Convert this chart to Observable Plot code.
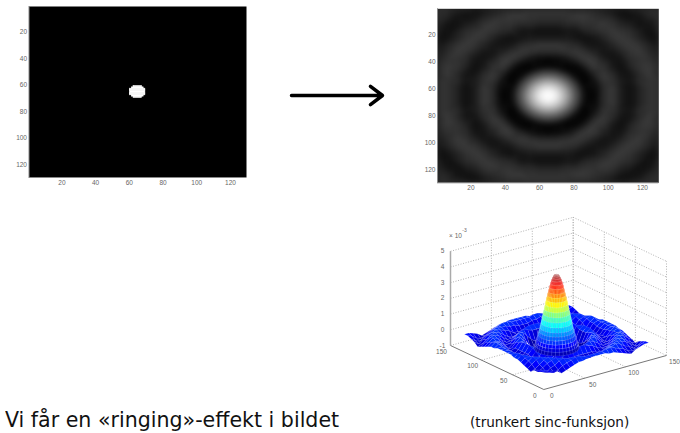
<!DOCTYPE html>
<html><head><meta charset="utf-8">
<script src="https://cdn.jsdelivr.net/npm/d3@7"></script>
<script src="https://cdn.jsdelivr.net/npm/@observablehq/plot@0.6"></script>
<style>
html,body{margin:0;padding:0;background:#fff;width:680px;height:433px;overflow:hidden}
#page{position:relative;width:680px;height:433px;overflow:hidden}
#page>svg,#page>.p{position:absolute}
.t{position:absolute;white-space:nowrap;color:#111;font-family:"DejaVu Sans",sans-serif;transform-origin:0 0}
</style></head><body><div id="page"></div>
<script>
// ---- data ----
const imageTicks = [20,40,60,80,100,120];
const blobRows  = [61,62,63,64,65,66,67,68,69];
const blobLeft  = [63,62,61,61,61,61,61,62,63];
const blobRight = [68,69,70,70,70,70,70,69,68];
const gridStep = 16/3;
// filtered picture, heights in units of 1e-4, rows and columns every gridStep samples from 1 to 129
const heights = [
[1,1,0,-1,-3,-2,-1,0,1,1,2,2,2,2,2,1,1,0,-1,-2,-3,-1,0,1,1],
[1,0,-2,-3,-2,0,1,2,3,3,2,2,2,2,2,3,3,2,1,0,-2,-3,-2,0,1],
[0,-2,-3,-1,0,2,3,2,2,1,1,0,0,0,1,1,2,2,3,2,0,-1,-3,-2,0],
[-1,-3,-1,1,2,3,2,1,0,-2,-2,-3,-3,-3,-2,-2,0,1,2,3,2,1,-1,-3,-1],
[-3,-2,0,2,3,2,0,-2,-3,-2,-1,-1,-1,-1,-1,-2,-3,-2,0,2,3,2,0,-2,-3],
[-2,0,2,3,2,0,-2,-2,-1,1,2,3,3,3,2,1,-1,-2,-2,0,2,3,2,0,-2],
[-1,1,3,2,0,-2,-2,0,2,3,2,1,1,1,2,3,2,0,-2,-2,0,2,3,1,-1],
[0,2,2,1,-2,-2,0,3,3,0,-3,-5,-6,-5,-3,0,3,3,0,-2,-2,1,2,2,0],
[1,3,2,0,-3,-1,2,3,-1,-6,-7,-4,-3,-4,-7,-6,-1,3,2,-1,-3,0,2,3,1],
[1,3,1,-2,-2,1,3,0,-6,-5,1,6,8,6,1,-5,-6,0,3,1,-2,-2,1,3,1],
[2,2,1,-2,-1,2,2,-3,-7,1,11,21,24,21,11,1,-7,-3,2,2,-1,-2,1,2,2],
[2,2,0,-3,-1,3,1,-5,-4,6,21,33,37,33,21,6,-4,-5,1,3,-1,-3,0,2,2],
[2,2,0,-3,-1,3,1,-6,-3,8,24,37,42,37,24,8,-3,-6,1,3,-1,-3,0,2,2],
[2,2,0,-3,-1,3,1,-5,-4,6,21,33,37,33,21,6,-4,-5,1,3,-1,-3,0,2,2],
[2,2,1,-2,-1,2,2,-3,-7,1,11,21,24,21,11,1,-7,-3,2,2,-1,-2,1,2,2],
[1,3,1,-2,-2,1,3,0,-6,-5,1,6,8,6,1,-5,-6,0,3,1,-2,-2,1,3,1],
[1,3,2,0,-3,-1,2,3,-1,-6,-7,-4,-3,-4,-7,-6,-1,3,2,-1,-3,0,2,3,1],
[0,2,2,1,-2,-2,0,3,3,0,-3,-5,-6,-5,-3,0,3,3,0,-2,-2,1,2,2,0],
[-1,1,3,2,0,-2,-2,0,2,3,2,1,1,1,2,3,2,0,-2,-2,0,2,3,1,-1],
[-2,0,2,3,2,0,-2,-2,-1,1,2,3,3,3,2,1,-1,-2,-2,0,2,3,2,0,-2],
[-3,-2,0,2,3,2,0,-2,-3,-2,-1,-1,-1,-1,-1,-2,-3,-2,0,2,3,2,0,-2,-3],
[-1,-3,-1,1,2,3,2,1,0,-2,-2,-3,-3,-3,-2,-2,0,1,2,3,2,1,-1,-3,-1],
[0,-2,-3,-1,0,2,3,2,2,1,1,0,0,0,1,1,2,2,3,2,0,-1,-3,-2,0],
[1,0,-2,-3,-2,0,1,2,3,3,2,2,2,2,2,3,3,2,1,0,-2,-3,-2,0,1],
[1,1,0,-1,-3,-2,-1,0,1,1,2,2,2,2,2,1,1,0,-1,-2,-3,-1,0,1,1]
];
// central lobe: radius in samples and height (1e-4)
const lobeRadius = [0,1,2,3,4,5,6,7,8,9,10,11,12,13,14,15,16,17,18,19,20,21,22];
const lobeHeight = [42,41.9,41.5,40.7,39.5,38,36,33.7,31,28.6,26,23,20,17,14,11,8,5.7,3.5,1.2,-1,-3,-5];
const lobeCentre = 65;
const zTicks = [-1,0,1,2,3,4,5];
const floorTicks = [0,50,100,150];
const jet = ["#000090","#0000ff","#0080ff","#00ffff","#80ff80","#ffff00","#ff8000","#ff0000","#800000"];
const grayStops = [-7,-2,3,42];
const grayLevels = ["#000000","#151515","#393939","#ffffff"];
const arrowSeg = [{x1:21,y1:25,x2:112,y2:25}];

// ---- helpers ----
const page = document.getElementById("page");
function place(el,left,top){el.style.left=left+"px";el.style.top=top+"px";page.appendChild(el);}
function label(text,left,top,size,extra){const d=document.createElement("div");d.className="t";d.textContent=text;d.style.fontSize=size+"px";if(extra)Object.assign(d.style,extra);place(d,left,top);}
function axes2d(){
  return [
    Plot.ruleX([0.5],{stroke:"#888",strokeWidth:1}),
    Plot.ruleY([129.5],{stroke:"#888",strokeWidth:1}),
    Plot.axisX({ticks:imageTicks,tickSize:0,tickPadding:3,label:null,color:"#666",fontSize:6.5,fontFamily:"Liberation Sans"}),
    Plot.axisY({ticks:imageTicks,tickSize:0,tickPadding:2,label:null,color:"#666",fontSize:6.5,fontFamily:"Liberation Sans"})
  ];
}
const dom=[0.5,129.5];

// panel 1: the ideal filter
const blob = blobRows.map((r,i)=>({y1:r-.5,y2:r+.5,x1:blobLeft[i]-.5,x2:blobRight[i]-.5}));
place(Plot.plot({
  width:260,height:195,marginLeft:28.5,marginRight:14,marginTop:6,marginBottom:18,
  x:{domain:dom},y:{domain:dom,reverse:true},
  marks:[Plot.frame({fill:"black",stroke:null}),
    Plot.rect(blob,{x1:"x1",x2:"x2",y1:"y1",y2:"y2",fill:"white",stroke:"white",strokeWidth:.6}),
    ...axes2d()]
}),0,0);

// samples shared by the picture and the surface
const samples=[];
heights.forEach((row,i)=>row.forEach((v,j)=>{
  const a=1+i*gridStep,b=1+j*gridStep;
  if(Math.hypot(a-lobeCentre,b-lobeCentre)>23) samples.push({x:b,y:a,v});
}));
const sectors=36;
lobeRadius.forEach((r,k)=>{
  if(k%2) return;
  for(let s=0;s<(r===0?1:sectors);s++){
    const t=s/sectors*2*Math.PI;
    samples.push({x:lobeCentre+r*Math.cos(t),y:lobeCentre+r*Math.sin(t),v:lobeHeight[k]});
  }
});

// panel 2: filtered picture
place(Plot.plot({
  width:270,height:200,marginLeft:27,marginRight:21.7,marginTop:8.3,marginBottom:17.7,
  x:{domain:dom},y:{domain:dom,reverse:true},
  color:{type:"linear",domain:grayStops,range:grayLevels,clamp:true},
  marks:[Plot.raster(samples,{x:"x",y:"y",fill:"v",interpolate:"barycentric",blur:2}),
    ...axes2d()]
}),410,0);

// panel 3: surface
const F=[133.3,179],A=[-.622,-.2933],B=[.818,-.2267],Z=15.7;
const px=(a,b)=>F[0]+a*A[0]+b*B[0];
const py=(a,b,z)=>F[1]+a*A[1]+b*B[1]-(z+1)*Z;
const cells=[];
for(let i=0;i<24;i++)for(let j=0;j<24;j++){
  if(Math.abs(i-11.5)<4&&Math.abs(j-11.5)<4) continue;
  const c=[[i,j],[i+1,j],[i+1,j+1],[i,j+1]].map(([r,q])=>({a:1+r*gridStep,b:1+q*gridStep,z:heights[r][q]/10}));
  cells.push(c);
}
const lobeCells=[];
for(let k=0;k<lobeRadius.length-1;k++)for(let s=0;s<sectors;s++){
  const t0=s/sectors*2*Math.PI,t1=(s+1)/sectors*2*Math.PI;
  const p=(kk,t)=>({a:lobeCentre+lobeRadius[kk]*Math.cos(t),b:lobeCentre+lobeRadius[kk]*Math.sin(t),z:lobeHeight[kk]/10});
  lobeCells.push([p(k,t0),p(k+1,t0),p(k+1,t1),p(k,t1)]);
}
const depth=c=>-d3.sum(c,p=>p.a+p.b);
cells.sort((u,v)=>depth(u)-depth(v));lobeCells.sort((u,v)=>depth(u)-depth(v));
const toPoly=list=>{
  const out=[];
  list.forEach((c,id)=>{
    const v=d3.mean(c,p=>p.z)*10;
    [...c,c[0]].forEach(p=>out.push({id,v,x:px(p.a,p.b),y:py(p.a,p.b,p.z)}));
  });
  return out;
};
const seg=(p,q)=>({x1:px(p[0],p[1]),y1:py(p[0],p[1],p[2]),x2:px(q[0],q[1]),y2:py(q[0],q[1],q[2])});
const edge=150,zlo=-1,zhi=5;
const dotted=[];
zTicks.forEach(z=>{dotted.push(seg([edge,0,z],[edge,edge,z]),seg([edge,edge,z],[0,edge,z]));});
floorTicks.forEach(t=>{
  dotted.push(seg([edge,t,zlo],[edge,t,zhi]),seg([t,edge,zlo],[t,edge,zhi]));
  if(t>0&&t<edge)dotted.push(seg([t,0,zlo],[t,edge,zlo]),seg([0,t,zlo],[edge,t,zlo]));
});
const solid=[seg([edge,0,zlo],[0,0,zlo]),seg([0,0,zlo],[0,edge,zlo])];
const zAxis=[seg([edge,0,zlo],[edge,0,zhi])];
const zTickMarks=zTicks.map(z=>({x:px(edge,0),y:py(edge,0,z),t:String(z)}));
const aLabs=floorTicks.map(t=>({x:px(t,0),y:py(t,0,zlo),t:String(t)}));
const bLabs=floorTicks.map(t=>({x:px(0,t),y:py(0,t,zlo),t:String(t)}));
const ident=(n)=>({domain:[0,n],range:[0,n]});
const txt={text:"t",fill:"#666",fontSize:6.5,fontFamily:"Liberation Sans",x:"x",y:"y"};
place(Plot.plot({
  width:270,height:223,margin:0,
  x:{type:"linear",...ident(270),axis:null},y:{type:"linear",...ident(223),axis:null},
  color:{type:"linear",domain:[-6,42],interpolate:d3.piecewise(d3.interpolateRgb,jet)},
  marks:[
    Plot.link(dotted,{x1:"x1",y1:"y1",x2:"x2",y2:"y2",stroke:"#aaa",strokeWidth:.9,strokeDasharray:"1,1.6"}),
    Plot.line(toPoly(cells),{x:"x",y:"y",z:"id",fill:"v",stroke:"white",strokeOpacity:.16,strokeWidth:.5}),
    Plot.line(toPoly(lobeCells),{x:"x",y:"y",z:"id",fill:"v",stroke:"white",strokeOpacity:.3,strokeWidth:.35}),
    Plot.link(solid,{x1:"x1",y1:"y1",x2:"x2",y2:"y2",stroke:"#777",strokeWidth:1}),
    Plot.link(zAxis,{x1:"x1",y1:"y1",x2:"x2",y2:"y2",stroke:"#aaa",strokeWidth:1.5}),
    Plot.text(zTickMarks,{...txt,dx:-8}),
    Plot.text(aLabs,{...txt,dx:-9,dy:6}),
    Plot.text(bLabs,{...txt,dx:8,dy:6.5}),
    Plot.text([{x:45,y:25,t:"× 10"}],txt),
    Plot.text([{x:54,y:20,t:"-3"}],{...txt,fontSize:5})
  ]
}),410,210);

// arrow
place(Plot.plot({
  width:130,height:50,margin:0,
  x:{...ident(130),axis:null},y:{...ident(50),axis:null},
  marks:[Plot.arrow(arrowSeg,{x1:"x1",y1:"y1",x2:"x2",y2:"y2",stroke:"#000",strokeWidth:3.5,headLength:6.5,headAngle:75,bend:0})]
}),270,70);

label("Vi får en «ringing»-effekt i bildet",5,407,22,{transform:"scaleX(0.935)"});
label("(trunkert sinc-funksjon)",470,414,13.6);
</script></body></html>
